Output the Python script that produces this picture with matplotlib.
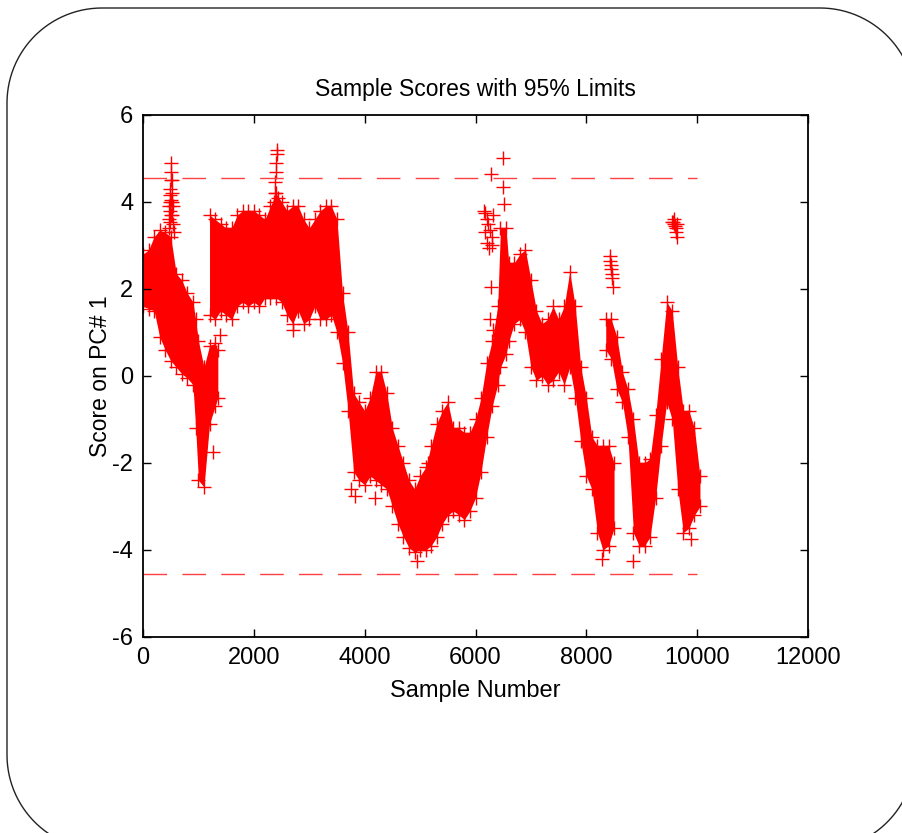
import numpy as np
import matplotlib
matplotlib.use("Agg")
import matplotlib.pyplot as plt
from matplotlib.path import Path
from matplotlib.patches import PathPatch

# PC#1 score band: sample number, lower / upper edge
seg1_x = [0, 100, 200, 300, 400, 500, 600, 700, 800, 900, 950, 1000, 1100, 1200, 1300, 1350]
seg1_lo = [1.6, 1.55, 1.5, 0.9, 0.6, 0.35, 0.2, 0.05, -0.05, -0.2, -1.2, -2.4, -2.55, -1.1, -0.7, -0.5]
seg1_hi = [2.8, 2.9, 3.2, 3.35, 3.3, 3.2, 2.35, 2.2, 1.9, 1.7, 1.3, 0.8, 0.2, 0.7, 0.75, 0.6]

seg2_x = [1200, 1300, 1400, 1500, 1600, 1700, 1800, 1900, 2000, 2100,
          2200, 2300, 2400, 2500, 2600, 2700, 2800, 2900, 3000, 3100,
          3200, 3300, 3400, 3500, 3600, 3700, 3800, 3900, 4000, 4100,
          4200, 4300, 4400, 4500, 4600, 4700, 4800, 4900, 5000, 5100,
          5200, 5300, 5400, 5500, 5600, 5700, 5800, 5900, 6000, 6100,
          6200, 6300, 6400, 6450, 6550, 6600, 6700, 6800, 6900, 7000, 7100,
          7200, 7300, 7400, 7500, 7600, 7700, 7800, 7900, 8000, 8100,
          8200, 8300, 8400, 8500]
seg2_lo = [1.4, 1.3, 1.5, 1.4, 1.3, 1.6, 1.7, 1.6, 1.7, 1.6,
           1.8, 1.8, 1.8, 1.7, 1.4, 1.2, 1.5, 1.2, 1.3, 1.6,
           1.3, 1.3, 1.4, 1.0, 0.3, -0.8, -2.2, -2.4, -2.5, -2.3,
           -2.4, -2.5, -2.6, -3.0, -3.4, -3.7, -3.95, -4.05, -4.0, -4.0,
           -3.9, -3.7, -3.4, -3.2, -3.1, -3.2, -3.3, -3.1, -2.8, -2.2,
           -1.4, -0.7, -0.2, 0.2, 0.5, 0.8, 1.2, 1.3, 1.0, 0.2, -0.1,
           0.0, -0.2, -0.1, 0.1, -0.2, 0.2, -0.5, -1.5, -2.3, -2.6,
           -3.6, -4.0, -3.9, -3.5]
seg2_hi = [3.7, 3.6, 3.5, 3.4, 3.4, 3.7, 3.8, 3.8, 3.8, 3.7,
           3.6, 3.9, 4.2, 4.0, 3.8, 3.9, 3.9, 3.6, 3.4, 3.6,
           3.8, 3.9, 3.9, 3.6, 1.9, 1.0, -0.4, -0.6, -0.8, -0.5,
           0.1, 0.1, -0.4, -1.2, -1.6, -2.0, -2.4, -2.6, -2.3, -2.1,
           -1.6, -1.1, -0.8, -0.6, -1.2, -1.2, -1.3, -1.3, -1.0, -0.5,
           0.3, 0.8, 1.6, 3.4, 3.4, 2.6, 2.6, 2.8, 2.9, 2.2, 1.5,
           1.2, 1.3, 1.6, 1.3, 1.6, 2.4, 1.6, 0.2, -0.5, -1.4,
           -1.6, -1.6, -1.6, -2.0]

seg3_x = [8350, 8450, 8550, 8650, 8750, 8850, 8950, 9050, 9150, 9250,
          9350, 9450, 9550, 9650, 9750, 9850, 9950, 10050]
seg3_lo = [0.6, 0.4, -0.3, -0.6, -1.4, -3.6, -3.9, -3.9, -3.7, -2.8,
           -1.6, -0.6, -1.0, -2.6, -3.6, -3.5, -3.2, -3.0]
seg3_hi = [1.3, 1.3, 0.9, 0.1, -0.3, -1.0, -2.0, -2.0, -1.9, -0.9,
           0.4, 1.7, 1.5, 0.2, -0.8, -0.8, -1.2, -2.3]

# single samples sticking out of the band (spikes, islands, outliers)
extra_x = [460, 470, 480, 485, 490, 495, 500, 505, 510, 515, 520, 530, 540, 550,
           470, 490, 500, 510, 530, 545,
           2380, 2390, 2400, 2405, 2410, 2420, 2360, 2440,
           6150, 6170, 6200, 6230, 6260, 6290, 6200, 6250, 6320, 6180, 6300,
           6280, 6260, 6320,
           6280, 6500, 6500, 6510,
           8420, 8430, 8440, 8450, 8460, 8470, 8480,
           9550, 9570, 9590, 9600, 9610, 9620, 9640, 9580, 9630,
           1263, 1390, 2710, 3830, 3760, 4190, 4950, 5140, 8840, 8280, 9880]
extra_y = [3.4, 3.6, 3.8, 4.0, 4.15, 4.3, 4.5, 4.7, 4.9, 4.5, 4.0, 3.7, 3.5, 3.3,
           3.9, 3.55, 3.7, 4.05, 4.2, 3.9,
           4.2, 4.45, 4.7, 4.9, 5.1, 5.2, 4.0, 4.1,
           3.8, 3.75, 3.6, 3.5, 3.35, 3.2, 3.05, 2.95, 3.7, 3.3, 3.0,
           2.05, 1.3, 1.05,
           4.65, 5.02, 4.35, 3.95,
           2.75, 2.65, 2.55, 2.45, 2.35, 2.25, 2.05,
           3.55, 3.55, 3.5, 3.45, 3.4, 3.3, 3.2, 3.6, 3.5,
           -1.75, 0.95, 1.05, -2.75, -2.6, -2.8, -4.25, -2.0, -4.25, -4.2, -3.75]

limit = 4.56
limit_x = [0, 10000]

plt.rcParams['font.family'] = ['Liberation Sans', 'DejaVu Sans']
plt.rcParams['axes.unicode_minus'] = False

fig = plt.figure(figsize=(9.03, 8.33), dpi=100)
fig.patch.set_facecolor('white')

# rounded frame around the whole figure (inches, origin bottom-left)
x0, x1, y0, y1, r = 0.07, 9.15, -0.17, 8.25, 0.95
t = np.linspace(0, np.pi / 2, 30)
verts = np.concatenate([
    np.column_stack([x1 - r + r * np.cos(t), y1 - r + r * np.sin(t)]),
    np.column_stack([x0 + r - r * np.sin(t), y1 - r + r * np.cos(t)]),
    np.column_stack([x0 + r - r * np.cos(t), y0 + r - r * np.sin(t)]),
    np.column_stack([x1 - r + r * np.sin(t), y0 + r - r * np.cos(t)]),
])
verts = np.vstack([verts, verts[:1]])
frame = PathPatch(Path(verts), transform=fig.dpi_scale_trans, fill=False,
                  edgecolor='#222222', linewidth=1.0, clip_on=False)
fig.patches.append(frame)

ax = fig.add_axes([0.1584, 0.2353, 0.7364, 0.6267])

mk = dict(linestyle='none', marker='+', markersize=9.5, markeredgewidth=1.0, color='#ff0000')
for x, lo, hi in [(seg1_x, seg1_lo, seg1_hi),
                  (seg2_x, seg2_lo, seg2_hi),
                  (seg3_x, seg3_lo, seg3_hi)]:
    ax.fill_between(x, lo, hi, color='#ff0000', linewidth=0)
    ax.plot(x, lo, **mk)
    ax.plot(x, hi, **mk)
ax.plot(extra_x, extra_y, **mk)

ax.plot(limit_x, [limit, limit], color='#ff4040', linewidth=1.0, dashes=(17, 11))
ax.plot(limit_x, [-limit, -limit], color='#ff4040', linewidth=1.0, dashes=(17, 11))

ax.set_xlim(0, 12000)
ax.set_ylim(-6, 6)
ax.set_xticks(np.arange(0, 12001, 2000))
ax.set_yticks(np.arange(-6, 7, 2))
ax.tick_params(direction='in', length=6, width=1, top=True, right=True,
               labelsize=17, pad=7)
for sp in ax.spines.values():
    sp.set_linewidth(1.3)

ax.set_title('Sample Scores with 95% Limits', fontsize=16.5, pad=14)
ax.set_xlabel('Sample Number', fontsize=17, labelpad=8)
ax.set_ylabel('Score on PC# 1', fontsize=16.5, labelpad=0)

fig.savefig('out.png', dpi=100)
